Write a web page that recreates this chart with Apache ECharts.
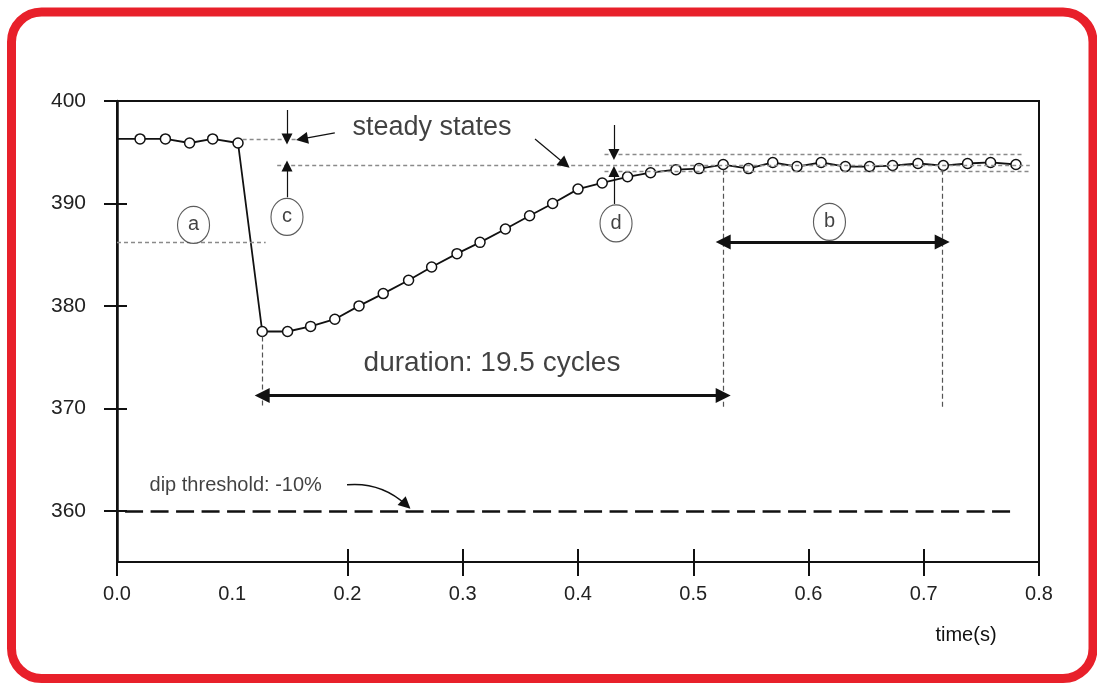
<!DOCTYPE html>
<html>
<head>
<meta charset="utf-8">
<script src="https://cdn.jsdelivr.net/npm/echarts@6/dist/echarts.min.js"></script>
<style>
  html, body { margin: 0; padding: 0; background: #fff; }
  #chart { width: 1097px; height: 684px; }
</style>
</head>
<body>
<div id="chart"></div>
<script>
// voltage samples, one per cycle
const times = [0, 0.020, 0.042, 0.063, 0.083, 0.105, 0.126, 0.148, 0.168, 0.189,
  0.210, 0.231, 0.253, 0.273, 0.295, 0.315, 0.337, 0.358, 0.378, 0.400,
  0.421, 0.443, 0.463, 0.485, 0.505, 0.526, 0.548, 0.569, 0.590, 0.611,
  0.632, 0.653, 0.673, 0.695, 0.717, 0.738, 0.758, 0.780];
const volts = [396.3, 396.3, 396.3, 395.9, 396.3, 395.9, 377.5, 377.5, 378.0, 378.7,
  380.0, 381.2, 382.5, 383.8, 385.1, 386.2, 387.5, 388.8, 390.0, 391.4,
  392.0, 392.6, 393.0, 393.3, 393.4, 393.8, 393.4, 394.0, 393.6, 394.0,
  393.6, 393.6, 393.7, 393.9, 393.7, 393.9, 394.0, 393.8];

const yTicks = [360, 370, 380, 390, 400];
const xLabels = [0, 0.1, 0.2, 0.3, 0.4, 0.5, 0.6, 0.7, 0.8];
const xTicks = [0, 0.2, 0.3, 0.4, 0.5, 0.6, 0.7, 0.8];

// reference levels (dotted)
const levelA = [[0, 386.2], [0.129, 386.2]];
const steadyBefore = [[0.109, 396.3], [0.161, 396.3]];
const steadyAfter = [[0.139, 393.76], [0.792, 393.76]];
const bandUpper = [[0.423, 394.78], [0.785, 394.78]];
const bandLower = [[0.423, 393.12], [0.792, 393.12]];
const dipStartLine = [[0.126, 377.0], [0.126, 370.0]];
const recoveryLine = [[0.526, 393.3], [0.526, 369.9]];
const windowEndLine = [[0.716, 393.3], [0.716, 369.9]];
const threshold = [[0.007, 360], [0.781, 360]];

// arrows [from, to]
const durationArrow = [[0.126, 371.25], [0.526, 371.25]];
const windowArrow = [[0.526, 386.24], [0.716, 386.24]];
const cTop = [[0.1475, 399.12], [0.1475, 396.3]];
const cBottom = [[0.1475, 390.6], [0.1475, 393.66]];
const dTop = [[0.4312, 397.66], [0.4312, 394.78]];
const dBottom = [[0.4312, 389.95], [0.4312, 393.12]];
const steadyArrow1 = [[0.189, 396.88], [0.1605, 396.3]];
const steadyArrow2 = [[0.3627, 396.29], [0.3887, 393.85]];
const dipArrow = [[0.1996, 362.54], [0.2508, 360.59]];

// circled letters
const circleNames = ['a', 'c', 'd', 'b'];
const circleT = [0.0664, 0.1475, 0.4330, 0.6182];
const circleV = [387.9, 388.68, 388.05, 388.2];

const FONT = '"Liberation Sans", Arial, sans-serif';
const INK = '#111';

const chart = echarts.init(document.getElementById('chart'), null, { renderer: 'canvas' });

const dotted = { color: '#8a8a8a', width: 1.3, type: [4, 3] };
const guide = { color: '#555', width: 1.2, type: [5, 3] };

const plain = (seg, style) => [
  { coord: seg[0], symbol: 'none', lineStyle: style },
  { coord: seg[1], symbol: 'none' }
];
const arrow = (seg, style, size) => [
  { coord: seg[0], symbol: 'none', lineStyle: style },
  { coord: seg[1], symbol: 'triangle', symbolSize: size }
];
const dblArrow = (seg, style, size) => [
  { coord: seg[0], symbol: 'triangle', symbolSize: size, lineStyle: style },
  { coord: seg[1], symbol: 'triangle', symbolSize: size }
];

const thin = { color: INK, width: 1.2, type: 'solid' };
const thick = { color: INK, width: 3, type: 'solid' };

chart.setOption({
  animation: false,
  backgroundColor: '#fff',
  grid: {
    left: 117, top: 101, right: 58, bottom: 122,
    show: true, borderColor: INK, borderWidth: 2
  },
  xAxis: [
    {
      type: 'value', min: 0, max: 0.8, position: 'bottom',
      axisLine: { lineStyle: { color: INK, width: 2 } },
      axisTick: { customValues: xTicks, length: 14, lineStyle: { color: INK, width: 2 } },
      axisLabel: {
        customValues: xLabels, margin: 22, color: '#222', fontFamily: FONT, fontSize: 20,
        formatter: v => v.toFixed(1)
      },
      splitLine: { show: false }
    },
    {
      type: 'value', min: 0, max: 0.8, position: 'top', offset: -461,
      axisLine: { show: false },
      axisTick: { customValues: xTicks, length: 13, lineStyle: { color: INK, width: 2 } },
      axisLabel: { show: false },
      splitLine: { show: false }
    }
  ],
  yAxis: [
    {
      type: 'value', min: 355, max: 400, position: 'left',
      axisLine: { show: true, lineStyle: { color: INK, width: 2.5 } },
      axisTick: { show: true, customValues: yTicks, length: 13, lineStyle: { color: INK, width: 2 } },
      axisLabel: {
        customValues: yTicks, margin: 31, color: '#222', fontFamily: FONT, fontSize: 21
      },
      splitLine: { show: false }
    },
    {
      type: 'value', min: 355, max: 400, position: 'left',
      axisLine: { show: false },
      axisTick: { show: true, inside: true, customValues: yTicks, length: 10, lineStyle: { color: INK, width: 2 } },
      axisLabel: { show: false },
      splitLine: { show: false }
    }
  ],
  series: [
    {
      name: 'annotations',
      type: 'line',
      data: [],
      markLine: {
        silent: true,
        animation: false,
        label: { show: false },
        data: [
          plain(levelA, dotted),
          plain(steadyBefore, dotted),
          plain(steadyAfter, dotted),
          plain(bandUpper, dotted),
          plain(bandLower, dotted),
          plain(dipStartLine, guide),
          plain(recoveryLine, guide),
          plain(windowEndLine, guide),
          plain(threshold, { color: INK, width: 2.5, type: [18, 7.5] }),
          dblArrow(durationArrow, thick, 15),
          dblArrow(windowArrow, thick, 15),
          arrow(cTop, thin, 11),
          arrow(cBottom, thin, 11),
          arrow(dTop, thin, 11),
          arrow(dBottom, thin, 11),
          arrow(steadyArrow1, thin, 12),
          arrow(steadyArrow2, thin, 12)
        ]
      }
    },
    {
      name: 'dip pointer',
      type: 'lines',
      coordinateSystem: 'cartesian2d',
      silent: true,
      symbol: ['none', 'triangle'],
      symbolSize: 12,
      lineStyle: { color: INK, width: 1.5, opacity: 1, curveness: 0.22 },
      data: [{ coords: dipArrow }]
    },
    {
      name: 'voltage',
      type: 'line',
      z: 4,
      data: times.map((t, i) => i === 0 ? { value: [t, volts[i]], symbol: 'none' } : [t, volts[i]]),
      symbol: 'circle',
      symbolSize: 10,
      lineStyle: { color: INK, width: 1.8 },
      itemStyle: { color: '#fff', borderColor: INK, borderWidth: 1.5 }
    },
    {
      name: 'markers',
      type: 'scatter',
      z: 5,
      data: circleNames.map((n, i) => ({ name: n, value: [circleT[i], circleV[i]] })),
      symbol: 'circle',
      symbolSize: [32, 37],
      itemStyle: { color: '#fff', borderColor: '#333', borderWidth: 1.2 },
      label: {
        show: true, position: 'inside', formatter: '{b}',
        color: INK, fontFamily: FONT, fontSize: 20
      }
    },
    {
      name: 'notes',
      type: 'scatter',
      z: 6,
      symbol: 'circle',
      symbolSize: 1,
      itemStyle: { color: 'transparent' },
      label: { show: true, formatter: '{b}', color: INK, fontFamily: FONT },
      data: [
        { name: 'steady states', value: [0.2039, 397.37],
          label: { position: 'right', distance: 0, fontSize: 27 } },
        { name: 'duration: 19.5 cycles', value: [0.3254, 374.44],
          label: { position: 'inside', fontSize: 28 } },
        { name: 'dip threshold: -10%', value: [0.0278, 362.44],
          label: { position: 'right', distance: 0, fontSize: 20 } }
      ]
    }
  ],
  graphic: [
    {
      type: 'rect', silent: true, z: 100,
      shape: { x: 11.5, y: 12, width: 1081.5, height: 666.5, r: 30 },
      style: { fill: 'none', stroke: '#e8202a', lineWidth: 9 }
    },
    {
      type: 'text', silent: true, x: 966, y: 635,
      style: { text: 'time(s)', font: '20px ' + FONT, fill: INK, align: 'center', verticalAlign: 'middle' }
    }
  ]
});

window.addEventListener('resize', () => chart.resize());
</script>
</body>
</html>
